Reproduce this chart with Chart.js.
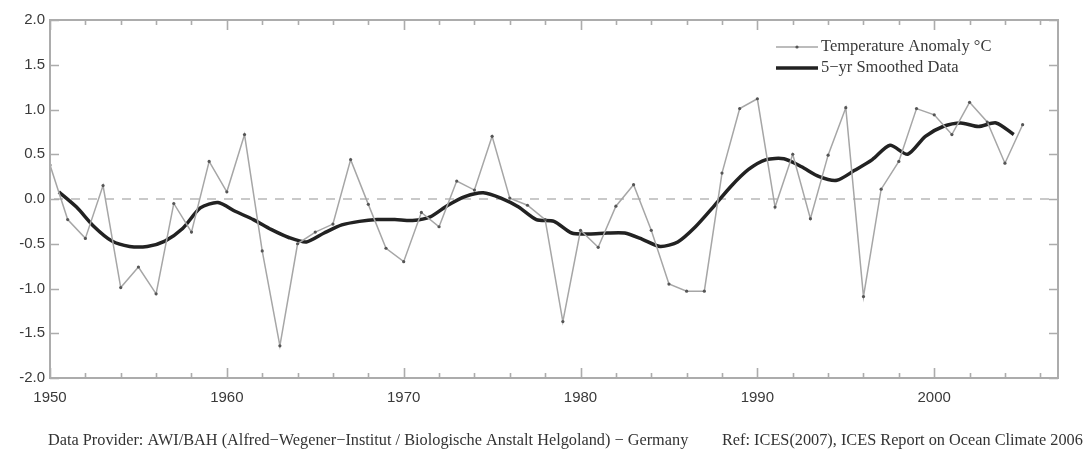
<!DOCTYPE html>
<html>
<head>
<meta charset="utf-8">
<script src="https://cdn.jsdelivr.net/npm/chart.js@4.4.1/dist/chart.umd.min.js"></script>
<style>
  html, body { margin: 0; padding: 0; background: #ffffff; }
  #wrap { width: 1088px; height: 451px; position: relative; }
</style>
</head>
<body>
<div id="wrap"><canvas id="c" width="1088" height="451"></canvas></div>
<script>
// ---- Data ----
const years = [1950,1951,1952,1953,1954,1955,1956,1957,1958,1959,
               1960,1961,1962,1963,1964,1965,1966,1967,1968,1969,
               1970,1971,1972,1973,1974,1975,1976,1977,1978,1979,
               1980,1981,1982,1983,1984,1985,1986,1987,1988,1989,
               1990,1991,1992,1993,1994,1995,1996,1997,1998,1999,
               2000,2001,2002,2003,2004,2005];
const anomaly = [0.38,-0.23,-0.44,0.15,-0.99,-0.76,-1.06,-0.05,-0.37,0.42,
                 0.08,0.72,-0.58,-1.64,-0.50,-0.37,-0.28,0.44,-0.06,-0.55,
                 -0.70,-0.15,-0.31,0.20,0.10,0.70,0.01,-0.07,-0.23,-1.37,
                 -0.35,-0.54,-0.08,0.16,-0.35,-0.95,-1.03,-1.03,0.29,1.01,
                 1.12,-0.09,0.50,-0.22,0.49,1.02,-1.09,0.11,0.42,1.01,
                 0.94,0.72,1.08,0.86,0.40,0.83];
const smoothYears = [1950.5,1951.5,1952.5,1953.5,1954.5,1955.5,1956.5,1957.5,1958.5,1959.5,
                     1960.5,1961.5,1962.5,1963.5,1964.5,1965.5,1966.5,1967.5,1968.5,1969.5,
                     1970.5,1971.5,1972.5,1973.5,1974.5,1975.5,1976.5,1977.5,1978.5,1979.5,
                     1980.5,1981.5,1982.5,1983.5,1984.5,1985.5,1986.5,1987.5,1988.5,1989.5,
                     1990.5,1991.5,1992.5,1993.5,1994.5,1995.5,1996.5,1997.5,1998.5,1999.5,
                     2000.5,2001.5,2002.5,2003.5,2004.5];
const smoothed = [0.08,-0.09,-0.31,-0.47,-0.53,-0.53,-0.47,-0.33,-0.10,-0.04,
                  -0.14,-0.23,-0.34,-0.43,-0.48,-0.38,-0.29,-0.25,-0.23,-0.23,
                  -0.24,-0.20,-0.07,0.03,0.07,0.01,-0.09,-0.23,-0.25,-0.38,
                  -0.39,-0.38,-0.38,-0.45,-0.53,-0.48,-0.31,-0.09,0.14,0.33,
                  0.44,0.45,0.36,0.25,0.21,0.32,0.44,0.60,0.50,0.70,
                  0.81,0.85,0.81,0.85,0.72];
const seriesLabels = ['Temperature Anomaly °C', '5\u2212yr Smoothed Data'];
const xTickLabels = [1950, 1960, 1970, 1980, 1990, 2000];
const yTickValues = [-2.0,-1.5,-1.0,-0.5,0.0,0.5,1.0,1.5,2.0];
const footerLeft = 'Data Provider: AWI/BAH (Alfred\u2212Wegener\u2212Institut / Biologische Anstalt Helgoland) \u2212 Germany';
const footerRight = 'Ref: ICES(2007), ICES Report on Ocean Climate 2006';

// ---- Style ----
const RAW_COLOR = '#a6a6a6';
const RAW_POINT = '#555555';
const SMOOTH_COLOR = '#222222';
const FRAME_COLOR = '#acacac';
const TEXT_COLOR = '#3a3a3a';

const frameTicks = {
  id: 'frameTicks',
  beforeDatasetsDraw(chart) {
    const {ctx, chartArea: a, scales: {y}} = chart;
    ctx.save();
    ctx.strokeStyle = '#c9c9c9';
    ctx.lineWidth = 2;
    ctx.setLineDash([9, 8]);
    const y0 = y.getPixelForValue(0);
    ctx.beginPath(); ctx.moveTo(a.left + 4, y0); ctx.lineTo(a.right, y0); ctx.stroke();
    ctx.setLineDash([]);
    ctx.restore();
  },
  afterDatasetsDraw(chart) {
    const {ctx, chartArea: a, scales: {x, y}} = chart;
    ctx.save();
    ctx.strokeStyle = FRAME_COLOR;
    ctx.lineWidth = 2;
    ctx.strokeRect(a.left, a.top, a.right - a.left, a.bottom - a.top);
    ctx.lineWidth = 1.6;
    ctx.beginPath();
    for (let yr = 1950; yr <= 2006; yr += 2) {
      const px = Math.round(x.getPixelForValue(yr)) + 0.5;
      const len = (yr % 10 === 0) ? 10 : 5;
      ctx.moveTo(px, a.top); ctx.lineTo(px, a.top + len);
      ctx.moveTo(px, a.bottom); ctx.lineTo(px, a.bottom - len);
    }
    yTickValues.forEach(v => {
      const py = Math.round(y.getPixelForValue(v)) + 0.5;
      ctx.moveTo(a.left, py); ctx.lineTo(a.left + 9, py);
      ctx.moveTo(a.right, py); ctx.lineTo(a.right - 9, py);
    });
    ctx.stroke();
    ctx.restore();
  },
  afterDraw(chart) {
    const {ctx} = chart;
    const ds = chart.data.datasets;
    ctx.save();
    const lx = 776, lw = 42;
    const rows = [47, 68];
    ctx.strokeStyle = ds[0].borderColor; ctx.lineWidth = ds[0].borderWidth;
    ctx.beginPath(); ctx.moveTo(lx, rows[0]); ctx.lineTo(lx + lw, rows[0]); ctx.stroke();
    ctx.fillStyle = ds[0].pointBackgroundColor;
    ctx.beginPath(); ctx.arc(lx + lw / 2, rows[0], 1.6, 0, Math.PI * 2); ctx.fill();
    ctx.strokeStyle = ds[1].borderColor; ctx.lineWidth = ds[1].borderWidth;
    ctx.beginPath(); ctx.moveTo(lx, rows[1]); ctx.lineTo(lx + lw, rows[1]); ctx.stroke();
    ctx.fillStyle = TEXT_COLOR;
    ctx.font = '16.5px "Liberation Serif", "DejaVu Serif", serif';
    ctx.textBaseline = 'middle';
    ctx.textAlign = 'left';
    ctx.fillText(ds[0].label, lx + lw + 3, rows[0]);
    ctx.fillText(ds[1].label, lx + lw + 3, rows[1]);
    ctx.font = '16.3px "Liberation Serif", "DejaVu Serif", serif';
    ctx.fillStyle = '#333333';
    ctx.fillText(footerLeft, 48, 441);
    ctx.fillText(footerRight, 722, 441);
    ctx.restore();
  }
};

new Chart(document.getElementById('c'), {
  type: 'line',
  data: {
    datasets: [
      {
        label: seriesLabels[0],
        data: years.map((yr, i) => ({x: yr, y: anomaly[i]})),
        borderColor: RAW_COLOR,
        borderWidth: 1.5,
        pointRadius: 1.6,
        pointBackgroundColor: RAW_POINT,
        pointBorderWidth: 0,
        tension: 0
      },
      {
        label: seriesLabels[1],
        data: smoothYears.map((yr, i) => ({x: yr, y: smoothed[i]})),
        borderColor: SMOOTH_COLOR,
        borderWidth: 3.5,
        pointRadius: 0,
        tension: 0.25
      }
    ]
  },
  options: {
    responsive: false,
    animation: false,
    devicePixelRatio: 1,
    layout: { padding: { top: 20, right: 30, bottom: 0, left: 0 } },
    plugins: { legend: { display: false }, tooltip: { enabled: false } },
    scales: {
      x: {
        type: 'linear',
        min: 1950, max: 2007,
        afterFit(s) { s.height = 73; },
        afterBuildTicks(s) { s.ticks = xTickLabels.map(v => ({value: v})); },
        grid: { display: false, drawTicks: false },
        border: { display: false },
        ticks: {
          padding: 11,
          color: TEXT_COLOR,
          font: { family: '"Liberation Sans", Arial, sans-serif', size: 15 },
          callback: v => String(v),
          maxRotation: 0
        }
      },
      y: {
        type: 'linear',
        min: -2, max: 2,
        afterFit(s) { s.width = 50; },
        afterBuildTicks(s) { s.ticks = yTickValues.map(v => ({value: v})); },
        grid: { display: false, drawTicks: false },
        border: { display: false },
        ticks: {
          padding: 5,
          color: TEXT_COLOR,
          font: { family: '"Liberation Sans", Arial, sans-serif', size: 15 },
          callback: v => Number(v).toFixed(1)
        }
      }
    }
  },
  plugins: [frameTicks]
});
</script>
</body>
</html>
